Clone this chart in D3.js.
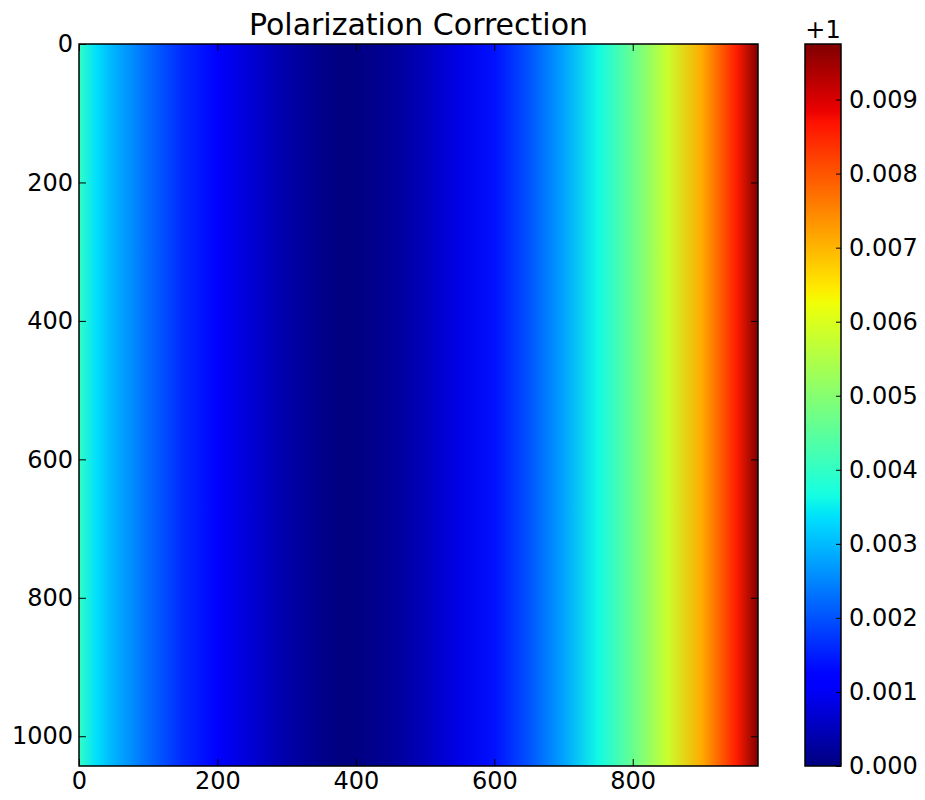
<!DOCTYPE html>
<html>
<head>
<meta charset="utf-8">
<script src="https://cdn.jsdelivr.net/npm/d3@7"></script>
<style>
  body { margin: 0; background: #fff; }
  text { font-family: "DejaVu Sans", sans-serif; fill: #000; }
</style>
</head>
<body>
<div id="chart"></div>
<script>
// column positions (detector pixel) and correction value minus 1
var columns = [0, 25, 50, 100, 150, 200, 250, 300, 350, 380, 400, 450, 500, 550, 600, 650, 700, 750, 800, 850, 900, 950, 981];
var values = [0.0040, 0.00336, 0.00293, 0.00224, 0.00161, 0.00112, 0.0007, 0.00035, 0.0001, 0.0, 0.00002, 0.0002, 0.0005, 0.00088, 0.00137, 0.002, 0.00278, 0.00361, 0.00463, 0.0058, 0.00712, 0.00858, 0.00975];
var xTicks = [0, 200, 400, 600, 800];
var yTicks = [0, 200, 400, 600, 800, 1000];
var cbTicks = [0, 0.001, 0.002, 0.003, 0.004, 0.005, 0.006, 0.007, 0.008, 0.009];
var imgWidth = 981, imgHeight = 1043;

(function() {
    var width = 925, height = 800;
    var left = 79, right = 758, top = 44, bottom = 766;
    var cbLeft = 805, cbRight = 841;

    var svg = d3.select("#chart")
    .append("svg")
    .attr("width", width)
    .attr("height", height);

    // jet colormap
    var jr = d3.scaleLinear().domain([0, 0.35, 0.66, 0.89, 1]).range([0, 0, 1, 1, 0.5]).clamp(true);
    var jg = d3.scaleLinear().domain([0, 0.125, 0.375, 0.64, 0.91, 1]).range([0, 0, 1, 1, 0, 0]).clamp(true);
    var jb = d3.scaleLinear().domain([0, 0.11, 0.34, 0.65, 1]).range([0.5, 1, 1, 0, 0]).clamp(true);
    var jet = t => d3.rgb(jr(t) * 255, jg(t) * 255, jb(t) * 255).formatHex();

    var vmin = d3.min(values), vmax = d3.max(values);
    var norm = d3.scaleLinear().domain([vmin, vmax]).range([0, 1]);

    var xScale = d3.scaleLinear().domain([0, imgWidth]).range([left, right]);
    var yScale = d3.scaleLinear().domain([0, imgHeight]).range([top, bottom]);
    var cScale = d3.scaleLinear().domain([vmin, vmax]).range([bottom, top]);

    var defs = svg.append("defs");

    var imgGrad = defs.append("linearGradient")
    .attr("id", "imgGrad")
    .attr("gradientUnits", "userSpaceOnUse")
    .attr("x1", xScale(0)).attr("x2", xScale(imgWidth))
    .attr("y1", 0).attr("y2", 0);

    imgGrad.selectAll("stop")
    .data(columns)
    .enter()
    .append("stop")
    .attr("offset", (d) => d / imgWidth)
    .attr("stop-color", (d, i) => jet(norm(values[i])));

    var cbGrad = defs.append("linearGradient")
    .attr("id", "cbGrad")
    .attr("x1", 0).attr("x2", 0)
    .attr("y1", 1).attr("y2", 0);

    cbGrad.selectAll("stop")
    .data(d3.range(0, 1.0001, 0.01))
    .enter()
    .append("stop")
    .attr("offset", (t) => t)
    .attr("stop-color", (t) => jet(t));

    // image
    svg.append("rect")
    .attr("x", xScale(0))
    .attr("y", yScale(0))
    .attr("width", xScale(imgWidth) - xScale(0))
    .attr("height", yScale(imgHeight) - yScale(0))
    .attr("fill", "url(#imgGrad)");

    // axes, ticks inside on all four sides
    var tl = 7;
    svg.append("g")
    .attr("transform", `translate(0, ${bottom})`)
    .call(d3.axisBottom(xScale).tickValues(xTicks).tickSize(-tl).tickPadding(6).tickFormat(d3.format("d")))
    .call(g => g.select(".domain").remove());

    svg.append("g")
    .attr("transform", `translate(0, ${top})`)
    .call(d3.axisTop(xScale).tickValues(xTicks).tickSize(-tl).tickFormat(""))
    .call(g => g.select(".domain").remove());

    svg.append("g")
    .attr("transform", `translate(${left}, 0)`)
    .call(d3.axisLeft(yScale).tickValues(yTicks).tickSize(-tl).tickPadding(6).tickFormat(d3.format("d")))
    .call(g => g.select(".domain").remove());

    svg.append("g")
    .attr("transform", `translate(${right}, 0)`)
    .call(d3.axisRight(yScale).tickValues(yTicks).tickSize(-tl).tickFormat(""))
    .call(g => g.select(".domain").remove());

    svg.selectAll(".tick line").attr("stroke", "#000").attr("stroke-width", 1);
    svg.selectAll(".tick text").style("font-size", "24px").attr("fill", "#000");

    svg.append("rect")
    .attr("x", left).attr("y", top)
    .attr("width", right - left).attr("height", bottom - top)
    .attr("fill", "none").attr("stroke", "#000").attr("stroke-width", 1.5);

    // colorbar
    svg.append("rect")
    .attr("x", cbLeft).attr("y", top)
    .attr("width", cbRight - cbLeft).attr("height", bottom - top)
    .attr("fill", "url(#cbGrad)");

    var cbAxis = svg.append("g")
    .attr("transform", `translate(${cbRight}, 0)`)
    .call(d3.axisRight(cScale).tickValues(cbTicks).tickSize(-5).tickPadding(8).tickFormat(d3.format(".3f")))
    .call(g => g.select(".domain").remove());

    cbAxis.selectAll(".tick line").attr("stroke", "#000").attr("stroke-width", 1);
    cbAxis.selectAll(".tick text").style("font-size", "24px").attr("fill", "#000");

    svg.append("rect")
    .attr("x", cbLeft).attr("y", top)
    .attr("width", cbRight - cbLeft).attr("height", bottom - top)
    .attr("fill", "none").attr("stroke", "#000").attr("stroke-width", 1.5);

    svg.append("text")
    .attr("x", (cbLeft + cbRight) / 2)
    .attr("y", top - 6)
    .attr("text-anchor", "middle")
    .style("font-size", "24px")
    .text("+1");

    svg.append("text")
    .attr("x", (left + right) / 2)
    .attr("y", top - 9)
    .attr("text-anchor", "middle")
    .style("font-size", "30px")
    .text("Polarization Correction");
})();
</script>
</body>
</html>
